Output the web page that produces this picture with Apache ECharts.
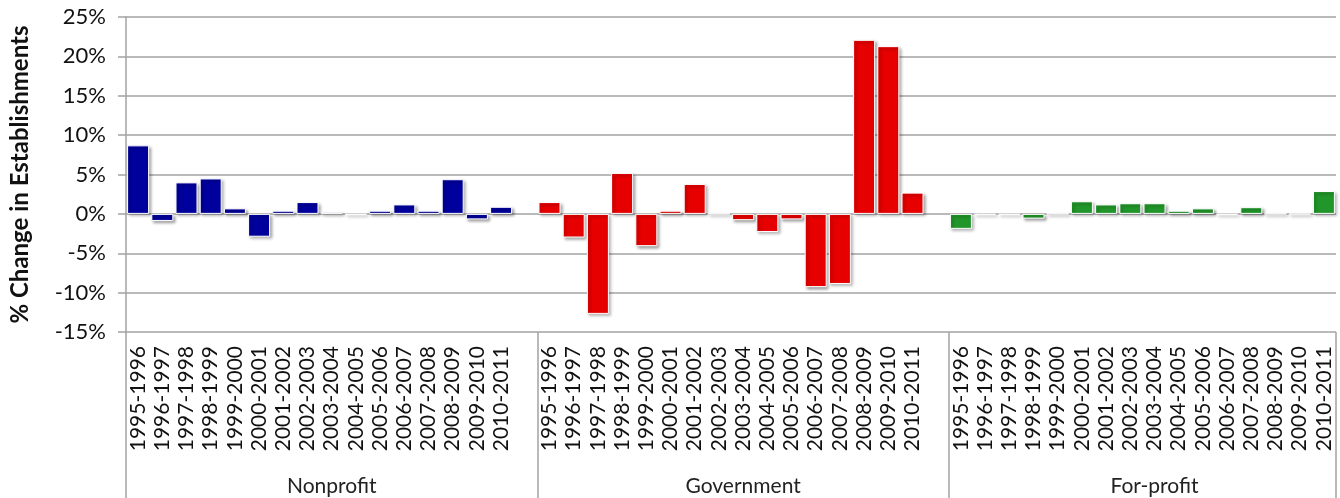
<!DOCTYPE html>
<html><head><meta charset="utf-8">
<script src="https://cdn.jsdelivr.net/npm/echarts@6/dist/echarts.min.js"></script>
<style>html,body{margin:0;padding:0;background:#fff}#c{width:1340px;height:498px}</style>
</head><body><div id="c"></div>
<script>
// ---- data ----
const periods = ['1995-1996','1996-1997','1997-1998','1998-1999','1999-2000','2000-2001','2001-2002','2002-2003',
  '2003-2004','2004-2005','2005-2006','2006-2007','2007-2008','2008-2009','2009-2010','2010-2011'];
const groups = ['Nonprofit', 'Government', 'For-profit'];
const nonprofit  = [8.7, -0.9, 4.0, 4.5, 0.7, -2.9, 0.4, 1.5, 0.2, -0.1, 0.4, 1.2, 0.4, 4.4, -0.7, 0.9];
const government = [1.5, -3.0, -12.7, 5.2, -4.1, 0.4, 3.8, 0.0, -0.8, -2.3, -0.7, -9.3, -8.9, 22.1, 21.3, 2.7];
const forprofit  = [-1.9, -0.1, -0.1, -0.6, 0.0, 1.6, 1.2, 1.35, 1.35, 0.4, 0.7, -0.1, 0.85, 0.0, -0.05, 2.9];
const yTickValues = [-15, -10, -5, 0, 5, 10, 15, 20, 25];

// ---- build ----
const seriesValues = [nonprofit, government, forprofit];
const colors = ['#00009c', '#e60000', '#21962a'];
const cats = [], blockStart = [];
groups.forEach((g, gi) => {
  blockStart.push(cats.length);
  periods.forEach(p => cats.push(p));
  if (gi < groups.length - 1) cats.push('');
});
const boundaries = blockStart.concat([cats.length]);
const groupCats = cats.map(() => '');
groups.forEach((g, gi) => { groupCats[blockStart[gi] + Math.floor(periods.length / 2)] = g; });

const series = seriesValues.map((vals, gi) => {
  const d = cats.map(() => null);
  vals.forEach((v, k) => { d[blockStart[gi] + k] = v; });
  return {
    name: groups[gi], type: 'bar', data: d, xAxisIndex: 0,
    barWidth: 22, barGap: '-100%',
    itemStyle: {
      color: colors[gi], borderColor: '#ffffff', borderWidth: 1,
      shadowColor: 'rgba(0,0,0,0.35)', shadowBlur: 3, shadowOffsetX: 2, shadowOffsetY: 2
    }
  };
});

const gridColor = '#a3a3a3';
const FONT = 'Lato';
const chart = echarts.init(document.getElementById('c'), null, { renderer: 'canvas' });
chart.setOption({
  animation: false,
  backgroundColor: '#ffffff',
  grid: { left: 125, right: 4, top: 17, bottom: 166, containLabel: false },
  xAxis: [
    {
      type: 'category', data: cats, position: 'bottom',
      axisLine: { show: false }, axisTick: { show: false },
      axisLabel: { interval: 0, rotate: 90, fontSize: 21, fontFamily: FONT, color: '#111', margin: 14 },
      splitLine: { show: false }
    },
    {
      type: 'category', data: groupCats, position: 'bottom',
      axisLine: { show: false },
      axisTick: { show: true, length: 166, interval: (i) => boundaries.includes(i),
        lineStyle: { color: gridColor, width: 1.5 } },
      axisLabel: { interval: 0, fontSize: 21, fontFamily: FONT, color: '#222', margin: 144 },
      splitLine: { show: false }
    }
  ],
  yAxis: {
    type: 'value', min: yTickValues[0], max: yTickValues[yTickValues.length - 1], interval: 5,
    axisLine: { show: true, lineStyle: { color: gridColor, width: 1.5 } },
    axisTick: { show: true, length: 8, lineStyle: { color: gridColor, width: 1.5 } },
    axisLabel: { formatter: '{value}%', fontSize: 22, fontFamily: FONT, color: '#111', margin: 20 },
    splitLine: { show: true, lineStyle: { color: gridColor, width: 1.5 } },
    name: '% Change in Establishments', nameLocation: 'middle', nameRotate: 90, nameGap: 94,
    nameTextStyle: { fontSize: 24, fontWeight: 'bold', fontFamily: FONT, color: '#111' }
  },
  series: series
});
</script>
</body></html>
